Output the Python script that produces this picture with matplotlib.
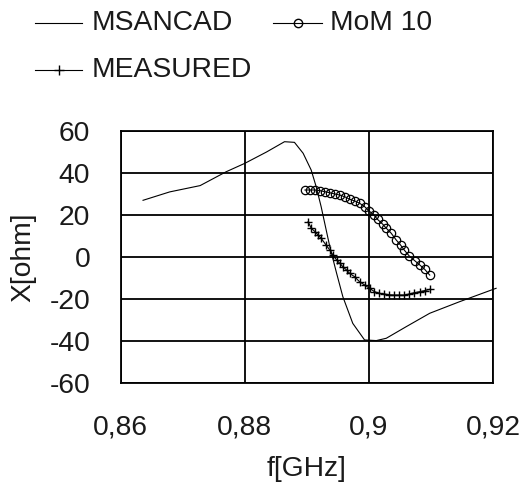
import matplotlib
matplotlib.use("Agg")
import matplotlib.pyplot as plt
from matplotlib.lines import Line2D
from matplotlib.ticker import FuncFormatter

plt.rcParams['font.family'] = ['Liberation Sans', 'DejaVu Sans']

# MSANCAD (simulation) curve
ms_f = [0.8636, 0.8679, 0.8728, 0.8770, 0.8800, 0.8835, 0.8864, 0.8880, 0.8894,
        0.8907, 0.8915, 0.8923, 0.8937, 0.8948, 0.8958, 0.8974, 0.8993, 0.9012,
        0.9028, 0.9060, 0.9098, 0.9146, 0.9205]
ms_x = [27.0, 31.0, 34.0, 40.6, 44.6, 50.0, 54.9, 54.6, 49.4,
        41.4, 33.5, 24.0, 4.9, -7.8, -18.9, -31.6, -39.5, -39.8,
        -38.7, -33.2, -26.8, -21.3, -14.9]

# MoM 10
mom_f = [0.8897, 0.8905, 0.8913, 0.8921, 0.8929, 0.8937, 0.8945, 0.8953, 0.8961,
         0.8969, 0.8977, 0.8985, 0.8993, 0.9000, 0.9008, 0.9014, 0.9022, 0.9028,
         0.9036, 0.9044, 0.9051, 0.9057, 0.9065, 0.9074, 0.9082, 0.9090, 0.9098]
mom_x = [31.9, 31.9, 31.9, 31.6, 31.1, 30.6, 30.0, 29.5, 28.7,
         27.5, 26.7, 25.6, 24.0, 22.0, 20.0, 17.9, 15.7, 13.7,
         11.3, 8.1, 5.7, 3.3, 0.5, -1.8, -3.8, -5.9, -8.6]

# MEASURED
meas_f = [0.8902, 0.8907, 0.8913, 0.8918, 0.8923, 0.8931, 0.8937, 0.8942, 0.8948,
          0.8953, 0.8958, 0.8964, 0.8969, 0.8977, 0.8985, 0.8993, 0.9001, 0.9009,
          0.9017, 0.9025, 0.9033, 0.9041, 0.9049, 0.9057, 0.9065, 0.9073, 0.9082,
          0.9090, 0.9098]
meas_x = [16.8, 13.7, 12.1, 10.5, 8.9, 5.7, 3.3, 1.0, -1.4,
          -3.0, -4.6, -6.2, -7.8, -9.4, -11.8, -13.3, -14.9, -16.5,
          -17.3, -17.6, -18.0, -18.1, -18.1, -18.1, -17.6, -17.0, -16.5,
          -16.0, -15.4]

x_ticks = [0.86, 0.88, 0.90, 0.92]
y_ticks = [-60, -40, -20, 0, 20, 40, 60]

FS = 20.3
TXT = '#1a1a1a'

W, H = 522, 487
fig = plt.figure(figsize=(W / 100, H / 100), dpi=100)
ax = fig.add_axes([120.7 / W, 1 - 383 / H, (493 - 120.7) / W, (383 - 131) / H])

ax.plot(ms_f, ms_x, color='black', lw=0.8, clip_on=False, zorder=3)
ax.plot(mom_f, mom_x, color='black', lw=0.8, marker='o', ms=6, mfc='none',
        mec='black', mew=0.9, zorder=3)
ax.plot(meas_f, meas_x, color='black', lw=0.8, marker='+', ms=6, mew=1.0, zorder=3)

ax.set_xlim(0.86, 0.92)
ax.set_ylim(-60, 60)
ax.set_xticks(x_ticks)
ax.set_yticks(y_ticks)
ax.xaxis.set_major_formatter(FuncFormatter(lambda v, p: ('%g' % v).replace('.', ',')))
ax.yaxis.set_major_formatter(FuncFormatter(lambda v, p: '%d' % v))
ax.grid(True, color='black', lw=1.3)
ax.set_axisbelow(True)
for s in ax.spines.values():
    s.set_linewidth(1.3)
    s.set_color('black')
ax.tick_params(length=0, labelsize=FS, colors=TXT)
ax.tick_params(axis='x', pad=23)
ax.tick_params(axis='y', pad=22)

ax.set_xlabel('f[GHz]', fontsize=FS, labelpad=11, color=TXT)
ax.set_ylabel('X[ohm]', fontsize=FS, labelpad=9, color=TXT)

# legend drawn manually
def fx(px):
    return px / W

def fy(py):
    return 1 - py / H

entries = [
    (35, 82, 23, None, 'MSANCAD', 92),
    (273, 322, 23, 'o', 'MoM 10', 330),
    (35, 82, 70, '+', 'MEASURED', 92),
]
for x0, x1, yy, mk, label, tx in entries:
    fig.add_artist(Line2D([fx(x0), fx(x1)], [fy(yy), fy(yy)], color='black', lw=0.8))
    if mk is not None:
        fig.add_artist(Line2D([fx((x0 + x1) / 2)], [fy(yy)], color='black', marker=mk,
                              ms=6 if mk == 'o' else 7, mfc='none', mec='black', mew=1.0))
    fig.text(fx(tx), fy(yy), label, fontsize=FS, va='center', ha='left', color=TXT)

fig.savefig('out.png', dpi=100)
